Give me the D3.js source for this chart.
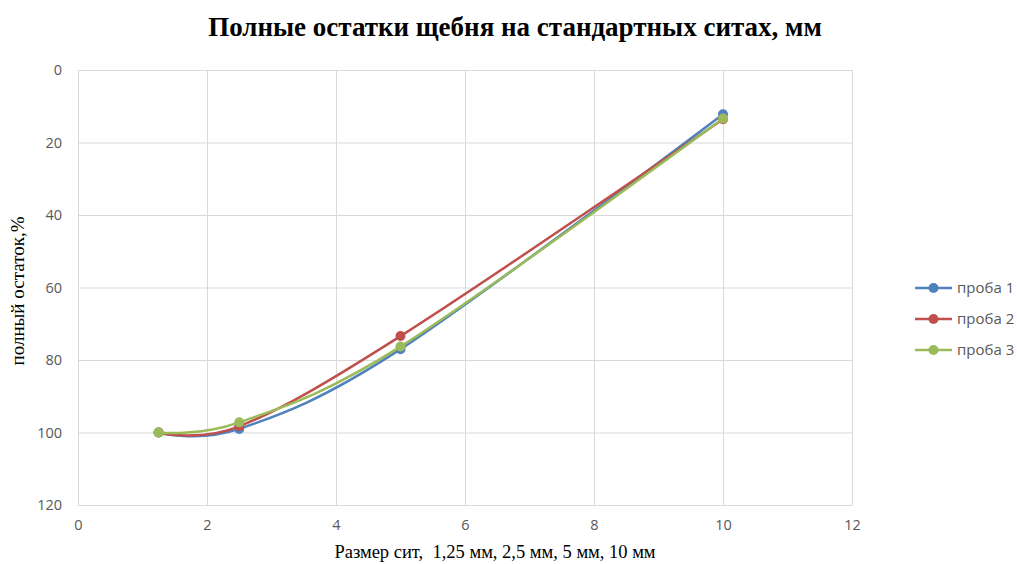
<!DOCTYPE html>
<html>
<head>
<meta charset="utf-8">
<script src="https://cdn.jsdelivr.net/npm/d3@7"></script>
<style>
  body { margin: 0; background: #fff; }
  svg { display: block; }
</style>
</head>
<body>
<svg id="chart" width="1017" height="564"></svg>
<script>
// Sieve sizes, mm
const sieves = [1.25, 2.5, 5, 10];
// Cumulative residue on each sieve, %
const sample1 = [100, 99.0, 77.0, 12.2];
const sample2 = [100, 98.3, 73.4, 13.6];
const sample3 = [100, 97.2, 76.3, 13.4];
const seriesNames = ["проба 1", "проба 2", "проба 3"];
const seriesColors = ["#4F81BD", "#C0504D", "#9BBB59"];
const xTicks = [0, 2, 4, 6, 8, 10, 12];
const yTicks = [0, 20, 40, 60, 80, 100, 120];

const svg = d3.select("#chart");
const plot = { left: 78, right: 852, top: 70, bottom: 505 };

const x = d3.scaleLinear().domain([0, 12]).range([plot.left, plot.right]);
const y = d3.scaleLinear().domain([0, 120]).range([plot.top, plot.bottom]);

// Gridlines
const grid = svg.append("g");
grid.selectAll("line.h").data(yTicks).join("line")
  .attr("x1", plot.left).attr("x2", plot.right)
  .attr("y1", d => y(d) + 0.5).attr("y2", d => y(d) + 0.5)
  .attr("stroke", "#d9d9d9").attr("stroke-width", 1);
grid.selectAll("line.v").data(xTicks).join("line")
  .attr("y1", plot.top).attr("y2", plot.bottom)
  .attr("x1", d => x(d) + 0.5).attr("x2", d => x(d) + 0.5)
  .attr("stroke", "#d9d9d9").attr("stroke-width", 1);

// Axes (labels only, the domain lines are the gridlines)
const xAxis = d3.axisBottom(x).tickValues(xTicks).tickSize(0).tickPadding(15);
const yAxis = d3.axisLeft(y).tickValues(yTicks).tickSize(0).tickPadding(16);
const gx = svg.append("g").attr("transform", `translate(0,${plot.bottom})`).call(xAxis);
const gy = svg.append("g").attr("transform", `translate(${plot.left},0)`).call(yAxis);
[gx, gy].forEach(g => {
  g.select(".domain").remove();
  g.selectAll("text")
    .attr("fill", "#595959")
    .style("font-family", "'Open Sans', 'Liberation Sans', sans-serif")
    .style("font-size", "14.5px");
});

// Series
const data = [sample1, sample2, sample3].map((vals, i) => ({
  name: seriesNames[i],
  color: seriesColors[i],
  points: sieves.map((s, j) => ({ x: s, y: vals[j] }))
}));

const line = d3.line()
  .x(d => x(d.x)).y(d => y(d.y))
  .curve(d3.curveCardinal.tension(0));

const series = svg.append("g").selectAll("g").data(data).join("g");
series.append("path")
  .attr("d", d => line(d.points))
  .attr("fill", "none")
  .attr("stroke", d => d.color)
  .attr("stroke-width", 2.5)
  .attr("stroke-linecap", "round");
series.selectAll("circle").data(d => d.points.map(p => ({ ...p, color: d.color }))).join("circle")
  .attr("cx", d => x(d.x)).attr("cy", d => y(d.y))
  .attr("r", 5).attr("fill", d => d.color);

// Title
svg.append("text")
  .attr("x", 515).attr("y", 36)
  .attr("text-anchor", "middle")
  .style("font-family", "'Liberation Serif', 'Times New Roman', serif")
  .style("font-weight", "bold").style("font-size", "27px")
  .attr("fill", "#000")
  .text("Полные остатки щебня на стандартных ситах, мм");

// Axis titles
svg.append("text")
  .attr("transform", "translate(24,291) rotate(-90)")
  .attr("text-anchor", "middle")
  .style("font-family", "'Liberation Serif', 'Times New Roman', serif")
  .style("font-size", "19px")
  .text("полный остаток,%");
svg.append("text")
  .attr("x", 495).attr("y", 558)
  .attr("text-anchor", "middle")
  .style("font-family", "'Liberation Serif', 'Times New Roman', serif")
  .style("font-size", "18.5px")
  .style("white-space", "pre")
  .text("Размер сит,  1,25 мм, 2,5 мм, 5 мм, 10 мм");

// Legend
const legend = svg.append("g").selectAll("g").data(data).join("g")
  .attr("transform", (d, i) => `translate(915,${288 + i * 31})`);
legend.append("line")
  .attr("x1", 0).attr("x2", 37).attr("y1", 0).attr("y2", 0)
  .attr("stroke", d => d.color).attr("stroke-width", 2.5);
legend.append("circle").attr("cx", 18.5).attr("cy", 0).attr("r", 5).attr("fill", d => d.color);
legend.append("text")
  .attr("x", 42).attr("y", 0).attr("dy", "0.35em")
  .style("font-family", "'Open Sans', 'Liberation Sans', sans-serif")
  .style("font-size", "15px")
  .attr("fill", "#595959")
  .text(d => d.name);
</script>
</body>
</html>
